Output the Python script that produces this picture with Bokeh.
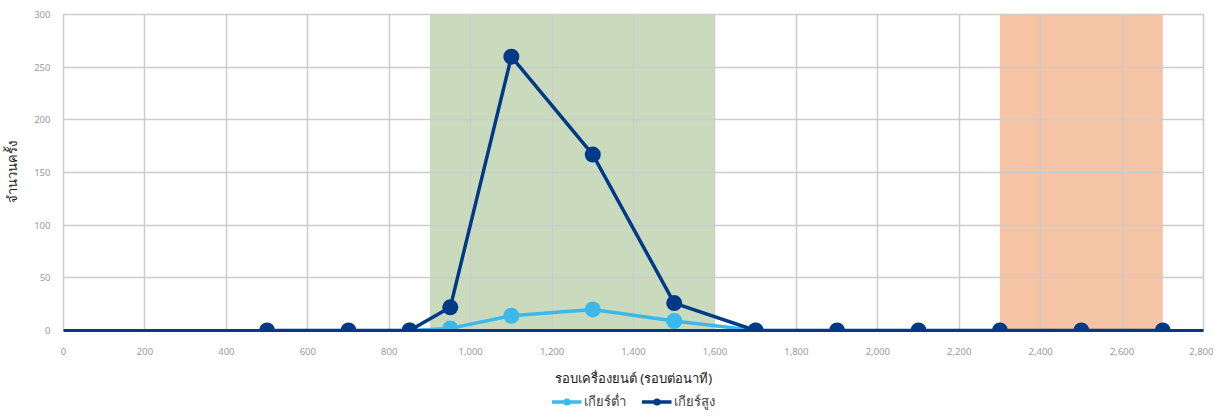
from bokeh.plotting import figure
from bokeh.layouts import column
from bokeh.models import BoxAnnotation, NumeralTickFormatter, Legend, LegendItem, FixedTicker, Range1d
from bokeh.embed import file_html
from bokeh.resources import INLINE

# Data
rpm_high = [500, 700, 850, 950, 1100, 1300, 1500, 1700, 1900, 2100, 2300, 2500, 2700]
count_high = [0, 0, 0, 22, 260, 167, 26, 0, 0, 0, 0, 0, 0]
rpm_low = [850, 950, 1100, 1300, 1500, 1700]
count_low = [0, 2, 14, 20, 9, 0]
series_names = ["เกียร์ต่ำ", "เกียร์สูง"]
green_band = (900, 1600)
orange_band = (2300, 2700)
x_ticks = list(range(0, 2801, 200))
y_ticks = list(range(0, 301, 50))

DARK = "#003a87"
LIGHT = "#3db8ea"
FONT = "Noto Sans"

p = figure(width=1213, height=390, output_backend="svg", toolbar_location=None,
           x_range=Range1d(0, 2800), y_range=Range1d(0, 300),
           min_border_left=52, min_border_right=10, min_border_top=14, min_border_bottom=60)

p.add_layout(BoxAnnotation(left=green_band[0], right=green_band[1], fill_color="#cadbbd",
                           fill_alpha=1, line_color=None, level="image"))
p.add_layout(BoxAnnotation(left=orange_band[0], right=orange_band[1], fill_color="#f5c4a5",
                           fill_alpha=1, line_color=None, level="image"))

p.outline_line_color = "#cccccc"
p.outline_line_width = 1.5
for g in (p.xgrid, p.ygrid):
    g.grid_line_color = "#cccccc"
    g.grid_line_width = 1.5
p.xaxis.ticker = FixedTicker(ticks=x_ticks)
p.yaxis.ticker = FixedTicker(ticks=y_ticks)
p.xaxis.formatter = NumeralTickFormatter(format="0,0")

for ax in (p.xaxis, p.yaxis):
    ax.major_tick_line_color = None
    ax.minor_tick_line_color = None
    ax.major_label_text_color = "#9a9a9a"
    ax.major_label_text_font_size = "9.5px"
    ax.major_label_text_font = FONT
    ax.axis_label_text_font = FONT
    ax.axis_label_text_font_style = "normal"
    ax.axis_label_text_font_size = "13px"
    ax.axis_label_text_color = "#222222"

p.xaxis.axis_line_color = DARK
p.xaxis.axis_line_width = 3
p.yaxis.axis_line_color = None
p.xaxis.major_label_standoff = 11
p.yaxis.major_label_standoff = 7
p.xaxis.axis_label = "รอบเครื่องยนต์ (รอบต่อนาที)"
p.yaxis.axis_label = "จำนวนครั้ง"
p.xaxis.axis_label_standoff = 11
p.yaxis.axis_label_standoff = 10

p.line(rpm_low, count_low, line_color=LIGHT, line_width=3.5)
p.scatter(rpm_low, count_low, size=16, fill_color=LIGHT, line_color=None)
p.line(rpm_high, count_high, line_color=DARK, line_width=3.5)
p.scatter(rpm_high, count_high, size=16, fill_color=DARK, line_color=None)

# Legend strip below the chart (same series, ranges chosen so only the legend shows)
lg = figure(width=1213, height=22, output_backend="svg", toolbar_location=None,
            x_range=Range1d(-20, -10), y_range=Range1d(-20, -10), min_border=0)
lg.axis.visible = False
lg.grid.visible = False
lg.outline_line_color = None
ll1 = lg.line(rpm_low, count_low, line_color=LIGHT, line_width=3.5)
ls1 = lg.scatter(rpm_low, count_low, size=14, fill_color=LIGHT, line_color=None)
ll2 = lg.line(rpm_high, count_high, line_color=DARK, line_width=3.5)
ls2 = lg.scatter(rpm_high, count_high, size=14, fill_color=DARK, line_color=None)
legend = Legend(items=[LegendItem(label=series_names[0], renderers=[ll1, ls1], index=0),
                       LegendItem(label=series_names[1], renderers=[ll2, ls2], index=0)],
                orientation="horizontal", location="center",
                border_line_color=None, background_fill_alpha=0,
                label_text_font=FONT, label_text_font_size="13px",
                glyph_width=30, glyph_height=18, spacing=16, padding=0, margin=0, label_standoff=2)
lg.add_layout(legend, "center")

open("out.html", "w").write(file_html(column(p, lg, spacing=0), INLINE))
